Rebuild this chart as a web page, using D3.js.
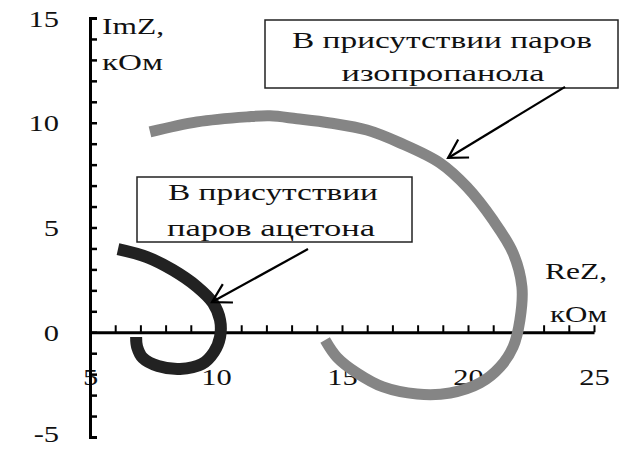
<!DOCTYPE html>
<html>
<head>
<meta charset="utf-8">
<script src="https://cdn.jsdelivr.net/npm/d3@7"></script>
<style>
  html, body { margin: 0; padding: 0; background: #fff; }
  svg { display: block; }
  text { font-family: "Liberation Serif", "Times New Roman", serif; fill: #111; }
</style>
</head>
<body>
<svg id="chart" width="634" height="449"></svg>
<script>
// Nyquist plots: impedance in the presence of vapours
const acetoneReZ = [6.11, 7.26, 8.29, 9.25, 9.88, 10.16, 10.16, 9.92, 9.44, 8.57, 7.70, 7.10, 6.87, 6.83];
const acetoneImZ = [3.97, 3.59, 2.97, 2.17, 1.40, 0.59, -0.23, -0.94, -1.52, -1.75, -1.61, -1.23, -0.70, -0.23];

const isoReZ = [7.38, 9.25, 11.23, 12.14, 13.21, 14.52, 15.99, 17.30, 18.89, 19.96, 20.99, 21.79, 22.14, 22.06,
                21.79, 21.27, 20.48, 19.29, 17.98, 16.63, 15.60, 14.80, 14.33];
const isoImZ = [9.56, 10.04, 10.28, 10.33, 10.19, 9.99, 9.65, 9.04, 8.08, 6.93, 5.36, 3.78, 2.16, 0.58,
                -0.70, -1.66, -2.42, -2.90, -2.95, -2.61, -1.95, -1.19, -0.37];

const xTickLabels = [5, 10, 15, 20, 25];
const yTickLabels = [-5, 0, 5, 10, 15];

const labelAcetone = ["В присутствии", "паров ацетона"];
const labelIso = ["В присутствии паров", "изопропанола"];
const yTitle = ["ImZ,", "кОм"];
const xTitle = ["ReZ,", "кОм"];

const SX = 1.27;      // horizontal stretch of the tick digits
const FONT = 24;

const svg = d3.select("#chart");
const x = d3.scaleLinear().domain([5, 25]).range([90, 594]);
const y = d3.scaleLinear().domain([-5, 15]).range([437, 18]);

// wide lettering: text fitted to a given run length
function wideText(g, str, px, py, anchor, width) {
  return g.append("text")
    .attr("x", px).attr("y", py)
    .attr("text-anchor", anchor || "start")
    .attr("font-size", FONT)
    .attr("textLength", width)
    .attr("lengthAdjust", "spacingAndGlyphs")
    .text(str);
}

// X axis through ImZ = 0, ticks pointing up
const xAxis = d3.axisBottom(x)
  .tickValues(d3.range(5, 26))
  .tickSizeInner(-7)
  .tickSizeOuter(0)
  .tickFormat(d => xTickLabels.includes(d) ? d : "");
const gx = svg.append("g").attr("transform", `translate(0,${y(0)})`).call(xAxis);
gx.select(".domain").attr("stroke", "#000").attr("stroke-width", 3);
gx.selectAll(".tick line").attr("stroke", "#000").attr("stroke-width", 2);
gx.selectAll(".tick text")
  .attr("y", 53).attr("dy", 0)
  .attr("font-size", FONT)
  .attr("transform", `scale(${SX},1)`)
  .attr("font-family", "Liberation Serif")
  .attr("fill", "#111");

// Y axis at ReZ = 5, ticks pointing right
const yAxis = d3.axisLeft(y)
  .tickValues(d3.range(-5, 16))
  .tickSizeInner(-7)
  .tickSizeOuter(-7)
  .tickFormat(d => yTickLabels.includes(d) ? d : "");
const gy = svg.append("g").attr("transform", `translate(${x(5)},0)`).call(yAxis);
gy.select(".domain").attr("stroke", "#000").attr("stroke-width", 3).attr("fill", "none");
gy.selectAll(".tick line").attr("stroke", "#000").attr("stroke-width", 2.5);
gy.selectAll(".tick text")
  .attr("x", -31 / SX)
  .attr("dy", d => d === -5 ? "0.2em" : "0.34em")
  .attr("font-size", FONT)
  .attr("transform", `scale(${SX},1)`)
  .attr("font-family", "Liberation Serif")
  .attr("fill", "#111");

// axis titles
const titles = svg.append("g");
wideText(titles, yTitle[0], 102, 34, "start", 62);
wideText(titles, yTitle[1], 102, 70, "start", 61);
wideText(titles, xTitle[0], 545, 279, "start", 62);
wideText(titles, xTitle[1], 550, 322, "start", 57);

// curves
const line = d3.line().x(d => x(d[0])).y(d => y(d[1])).curve(d3.curveCatmullRom.alpha(0.5));
const isoPts = isoReZ.map((v, i) => [v, isoImZ[i]]);
const acePts = acetoneReZ.map((v, i) => [v, acetoneImZ[i]]);

svg.append("path").datum(isoPts)
  .attr("d", line).attr("fill", "none")
  .attr("stroke", "#858585").attr("stroke-width", 11)
  .attr("stroke-linejoin", "round").attr("stroke-linecap", "butt");

svg.append("path").datum(acePts)
  .attr("d", line).attr("fill", "none")
  .attr("stroke", "#222").attr("stroke-width", 12)
  .attr("stroke-linejoin", "round").attr("stroke-linecap", "butt");

// annotation boxes
function labelBox(lines, bx, by, bw, bh, cx, baselines, widths) {
  const g = svg.append("g");
  g.append("rect").attr("x", bx).attr("y", by).attr("width", bw).attr("height", bh)
    .attr("fill", "#fff").attr("stroke", "#222").attr("stroke-width", 1.5);
  lines.forEach((t, i) => wideText(g, t, cx[i], baselines[i], "middle", widths[i]));
}
labelBox(labelIso, 265, 20, 353, 68, [442, 443], [48, 81], [300, 203]);
labelBox(labelAcetone, 137, 177, 275, 65, [273, 271], [200, 236], [210, 208]);

// arrows with open heads
function arrow(from, to) {
  const x1 = x(from[0]), y1 = y(from[1]), x2 = x(to[0]), y2 = y(to[1]);
  const a = Math.atan2(y1 - y2, x1 - x2);
  const L = 21, spread = Math.PI / 6;
  const g = svg.append("g").attr("stroke", "#000").attr("stroke-width", 2.2).attr("fill", "none");
  g.append("line").attr("x1", x1).attr("y1", y1).attr("x2", x2).attr("y2", y2);
  g.append("path").attr("d",
    `M${x2 + L * Math.cos(a + spread)},${y2 + L * Math.sin(a + spread)}L${x2},${y2}` +
    `L${x2 + L * Math.cos(a - spread)},${y2 + L * Math.sin(a - spread)}`);
}
arrow([23.85, 11.71], [19.21, 8.32]);
arrow([13.65, 3.97], [9.84, 1.44]);
</script>
</body>
</html>
